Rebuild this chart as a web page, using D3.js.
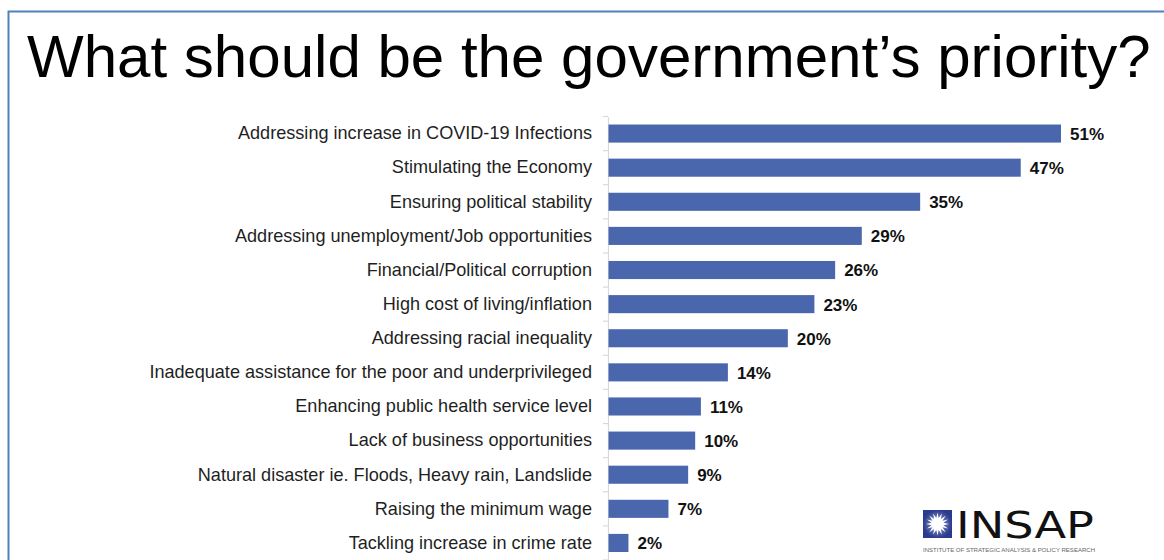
<!DOCTYPE html>
<html><head><meta charset="utf-8">
<script src="https://cdn.jsdelivr.net/npm/d3@7"></script>
<style>body{margin:0;background:#fff}svg{display:block}</style>
</head><body>
<svg id="c" width="1164" height="560"></svg>
<script>
const categories = [
  "Addressing increase in COVID-19 Infections",
  "Stimulating the Economy",
  "Ensuring political stability",
  "Addressing unemployment/Job opportunities",
  "Financial/Political corruption",
  "High cost of living/inflation",
  "Addressing racial inequality",
  "Inadequate assistance for the poor and underprivileged",
  "Enhancing public health service level",
  "Lack of business opportunities",
  "Natural disaster ie. Floods, Heavy rain, Landslide",
  "Raising the minimum wage",
  "Tackling increase in crime rate"
];
// bar lengths (labels show them rounded)
const values = [51.47, 46.89, 35.45, 28.81, 25.78, 23.42, 20.40, 13.58, 10.51, 9.86, 9.06, 6.82, 2.27];
const titleText = "What should be the government\u2019s priority?";

const svg = d3.select("#c");
const font = "'Liberation Sans', Arial, Helvetica, sans-serif";

// frame
svg.append("path").attr("d","M8.5,560 V11.5 H1164").attr("fill","none")
  .attr("stroke","#4f81bd").attr("stroke-width",2);

// title: size so it spans x 27..1150
const t = svg.append("text").attr("x",27).attr("y",77)
  .attr("font-family",font).attr("font-size",60).attr("fill","#000")
  .text(titleText);
const tw = t.node().getComputedTextLength();
t.attr("font-size",60*1124/tw);

const x = d3.scaleLinear().domain([0,51.47]).range([608.5,1061]);
const y = d3.scaleBand().domain(categories).range([116.5,560]).paddingInner(0.47).paddingOuter(0.235);

// axis
const yAxis = d3.axisLeft(y).tickSize(0).tickPadding(16);
const ax = svg.append("g").attr("transform","translate(608,0)").call(yAxis);
ax.select(".domain").attr("stroke","#d9d9d9").attr("stroke-width",1.2);
ax.selectAll("text").attr("font-family",font).attr("font-size",18.1).attr("fill","#1f1f1f");
// boundary ticks
const bounds = d3.range(categories.length+1).map(i => y.range()[0] + i*y.step());
svg.append("g").selectAll("line").data(bounds).join("line")
  .attr("x1",603).attr("x2",608).attr("y1",d=>d).attr("y2",d=>d)
  .attr("stroke","#d9d9d9").attr("stroke-width",1.2);

// bars
svg.append("g").selectAll("rect").data(values).join("rect")
  .attr("x",x(0)).attr("y",(d,i)=>y(categories[i]))
  .attr("width",d=>x(d)-x(0)).attr("height",y.bandwidth())
  .attr("fill","#4a67ad");

// value labels
svg.append("g").selectAll("text").data(values).join("text")
  .attr("x",d=>x(d)+9).attr("y",(d,i)=>y(categories[i])+y.bandwidth()/2)
  .attr("dy","0.38em").attr("font-family",font).attr("font-weight","bold")
  .attr("font-size",17).attr("fill","#111")
  .text(d=>d3.format(".0f")(d)+"%");

// logo
const lg = svg.append("g").attr("transform","translate(923,510)");
const grad = svg.append("defs").append("radialGradient").attr("id","lgr");
grad.append("stop").attr("offset","0%").attr("stop-color","#9aa6d6");
grad.append("stop").attr("offset","100%").attr("stop-color","#2b3a8c");
lg.append("rect").attr("width",29).attr("height",28).attr("fill","url(#lgr)");
const star = d3.range(32).map(i=>{const a=i*Math.PI/16; const r=i%2?6:11.5; return [14.5+r*Math.cos(a),14+r*Math.sin(a)];});
lg.append("polygon").attr("points",star.map(p=>p.join(",")).join(" ")).attr("fill","#fff");
lg.append("text").attr("x",33).attr("y",28).attr("font-family","'DejaVu Sans', sans-serif")
  .attr("font-size",38).attr("fill","#111").attr("textLength",138).attr("lengthAdjust","spacingAndGlyphs")
  .text("INSAP");
lg.append("text").attr("x",0).attr("y",42).attr("font-family",font)
  .attr("font-size",5).attr("fill","#666").attr("textLength",172).attr("lengthAdjust","spacingAndGlyphs")
  .text("INSTITUTE OF STRATEGIC ANALYSIS & POLICY RESEARCH");
</script>
</body></html>
